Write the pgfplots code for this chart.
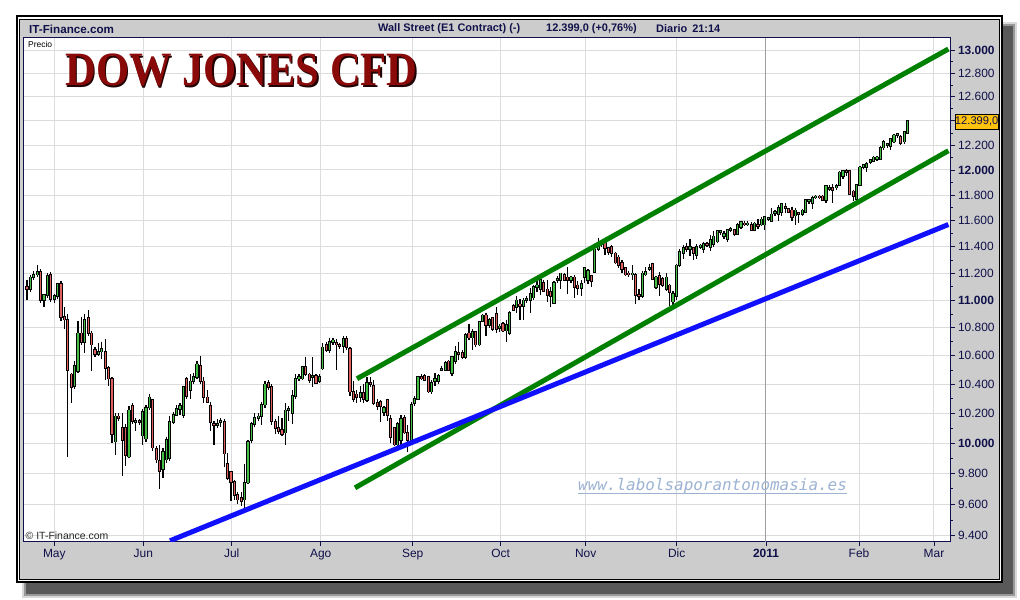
\documentclass[border=0pt]{standalone}
\usepackage{fontspec}
\setmainfont{Liberation Sans}
\newfontfamily\titlefont{Liberation Serif}
\newfontfamily\wmfont{DejaVu Sans Mono}
\usepackage{pgfplots}
\usepackage{pgfplotstable}
\pgfplotsset{compat=1.18}
\definecolor{navy}{HTML}{10104A}
\definecolor{framegrey}{HTML}{CCCCCC}
\definecolor{gridgrey}{HTML}{DCDCDC}
\definecolor{upgreen}{HTML}{44C044}
\definecolor{downred}{HTML}{E06060}
\definecolor{trendgreen}{HTML}{008000}
\definecolor{trendblue}{HTML}{1010FF}
\definecolor{titlered}{HTML}{8A0A0A}
\definecolor{wmblue}{HTML}{9DB3D3}
\definecolor{lastbox}{HTML}{FFC20E}

\pgfplotstableread{
i O H L C
0 11100 11150 11000 11080
1 11080 11190 11060 11170
2 11170 11220 11150 11190
3 11190 11260 11170 11210
4 11210 11230 10980 11000
5 11000 11050 10950 11040
6 11040 11200 11020 11180
7 11190 11210 10990 11010
8 11010 11050 10980 11030
9 11030 11130 11010 11120
10 11120 11140 10850 10880
11 10880 10950 10790 10860
12 10860 10900 9910 10500
13 10470 10480 10270 10380
14 10390 10560 10370 10530
15 10490 10850 10480 10760
16 10760 10880 10680 10700
17 10700 10900 10620 10860
18 10870 10930 10740 10760
19 10760 10780 10490 10680
20 10640 10660 10590 10610
21 10610 10690 10600 10630
22 10630 10700 10580 10650
23 10630 10720 10430 10515
24 10515 10530 10390 10440
25 10440 10450 10000 10060
26 10010 10200 9920 10180
27 10180 10200 10150 10170
28 10100 10200 9780 10020
29 10100 10130 9850 9920
30 9910 10250 9900 10220
31 10250 10270 10130 10150
32 10140 10170 10080 10150
33 10150 10160 10120 10140
34 10050 10230 9990 10210
35 10030 10260 10010 10240
36 10240 10330 10220 10310
37 10290 10300 9950 9970
38 9960 9980 9870 9890
39 9880 9990 9700 9815
40 9830 9970 9770 9940
41 9890 10040 9870 10020
42 9900 10180 9880 10140
43 10140 10210 10130 10190
44 10190 10260 10180 10230
45 10230 10270 10190 10250
46 10190 10390 10170 10380
47 10440 10450 10300 10320
48 10360 10470 10300 10420
49 10420 10480 10400 10450
50 10450 10560 10440 10540
51 10530 10600 10400 10420
52 10420 10450 10270 10310
53 10310 10360 10270 10280
54 10250 10280 10080 10140
55 10130 10150 9990 10120
56 10120 10160 10100 10130
57 10140 10170 10110 10150
58 10140 10160 9840 9930
59 9860 9935 9760 9770
60 9810 9810 9620 9745
61 9745 9760 9630 9660
62 9660 9680 9600 9630
63 9640 9680 9590 9620
64 9630 9860 9565 9740
65 9740 10020 9730 10010
66 10020 10140 10000 10130
67 10130 10200 10110 10170
68 10170 10200 10150 10180
69 10180 10280 10120 10260
70 10260 10420 10240 10400
71 10410 10430 10360 10380
72 10380 10400 10120 10150
73 10140 10160 10060 10100
74 10100 10180 10060 10080
75 10090 10170 10050 10060
76 10070 10270 9990 10220
77 10220 10250 10150 10230
78 10200 10360 10130 10320
79 10320 10470 10300 10440
80 10440 10470 10420 10450
81 10440 10530 10430 10520
82 10520 10590 10460 10470
83 10470 10480 10410 10430
84 10450 10590 10380 10460
85 10460 10470 10400 10410
86 10420 10470 10410 10450
87 10510 10690 10500 10660
88 10680 10700 10630 10640
89 10640 10730 10620 10700
90 10700 10730 10680 10710
91 10690 10720 10500 10680
92 10680 10690 10650 10670
93 10670 10740 10620 10720
94 10720 10740 10640 10660
95 10650 10660 10320 10350
96 10350 10420 10280 10300
97 10330 10360 10270 10310
98 10310 10390 10280 10340
99 10340 10400 10270 10300
100 10290 10450 10280 10410
101 10410 10450 10380 10400
102 10390 10430 10260 10270
103 10270 10300 10220 10250
104 10280 10290 10140 10250
105 10210 10250 10180 10240
106 10290 10300 10150 10190
107 10160 10190 10000 10040
108 10100 10110 9980 9990
109 9990 10140 9970 10130
110 10020 10190 9990 10160
111 10170 10190 10060 10070
112 10070 10120 9940 10020
113 10020 10280 10010 10260
114 10270 10320 10250 10300
115 10300 10460 10290 10450
116 10450 10470 10430 10440
117 10460 10470 10420 10430
118 10450 10460 10340 10350
119 10350 10430 10330 10410
120 10420 10480 10390 10440
121 10420 10470 10400 10460
122 10500 10530 10490 10510
123 10500 10560 10490 10550
124 10560 10570 10490 10500
125 10480 10600 10460 10590
126 10560 10670 10540 10630
127 10620 10700 10570 10610
128 10620 10640 10580 10590
129 10590 10760 10580 10750
130 10760 10830 10710 10730
131 10730 10790 10640 10770
132 10770 10780 10660 10680
133 10680 10850 10670 10840
134 10850 10900 10840 10890
135 10890 10910 10740 10820
136 10820 10870 10800 10860
137 10870 10880 10780 10790
138 10900 10950 10760 10790
139 10800 10830 10770 10810
140 10830 10840 10770 10780
141 10780 10860 10700 10820
142 10760 10920 10750 10910
143 10960 10970 10920 10930
144 10950 11030 10910 11000
145 10970 11010 10860 10960
146 10960 11020 10860 11000
147 11000 11030 10980 11010
148 11000 11090 10910 11050
149 11020 11110 11000 11100
150 11100 11140 11060 11110
151 11080 11170 11040 11150
152 11130 11150 11060 11070
153 11080 11150 10990 11040
154 11060 11100 10950 11030
155 10980 11140 10970 11130
156 11150 11180 11130 11160
157 11150 11200 11080 11200
158 11190 11200 11140 11150
159 11170 11250 11050 11150
160 11150 11180 11130 11170
161 11170 11190 11020 11100
162 11110 11140 11040 11090
163 11090 11150 11030 11120
164 11170 11240 11130 11240
165 11150 11230 11120 11220
166 11180 11190 11100 11140
167 11210 11380 11200 11380
168 11380 11470 11370 11430
169 11430 11450 11400 11420
170 11430 11440 11340 11390
171 11390 11400 11340 11360
172 11400 11410 11320 11350
173 11350 11360 11270 11280
174 11320 11340 11240 11260
175 11280 11300 11200 11230
176 11240 11250 11180 11190
177 11200 11220 11170 11190
178 11190 11260 11150 11200
179 11190 11200 10970 11040
180 11040 11080 11000 11030
181 11030 11220 11020 11200
182 11190 11250 11180 11210
183 11230 11270 11220 11240
184 11270 11280 11150 11160
185 11100 11180 11080 11170
186 11180 11210 11030 11120
187 11160 11170 11100 11110
188 11080 11200 11070 11170
189 11110 11120 10960 11060
190 10990 11070 10960 11050
191 11030 11270 11000 11260
192 11260 11380 11250 11360
193 11350 11410 11310 11390
194 11400 11430 11360 11380
195 11380 11460 11330 11400
196 11390 11400 11300 11350
197 11340 11420 11310 11400
198 11400 11420 11380 11410
199 11380 11440 11350 11420
200 11420 11440 11400 11410
201 11400 11490 11370 11450
202 11420 11520 11400 11480
203 11440 11530 11430 11520
204 11510 11530 11490 11520
205 11480 11520 11460 11500
206 11460 11540 11440 11530
207 11530 11550 11510 11540
208 11530 11540 11480 11500
209 11500 11580 11490 11570
210 11550 11600 11540 11590
211 11580 11600 11560 11570
212 11570 11600 11560 11580
213 11570 11590 11520 11530
214 11530 11590 11520 11580
215 11570 11610 11540 11560
216 11570 11630 11560 11610
217 11570 11640 11530 11630
218 11610 11630 11600 11620
219 11600 11700 11590 11650
220 11660 11680 11640 11670
221 11650 11720 11600 11700
222 11670 11740 11640 11730
223 11710 11740 11660 11700
224 11690 11700 11660 11670
225 11680 11710 11600 11630
226 11640 11700 11570 11680
227 11660 11670 11580 11650
228 11650 11690 11640 11680
229 11670 11770 11660 11760
230 11750 11770 11730 11760
231 11740 11790 11690 11780
232 11780 11800 11770 11790
233 11790 11800 11770 11780
234 11790 11800 11750 11760
235 11760 11880 11740 11870
236 11850 11880 11830 11860
237 11860 11890 11740 11840
238 11860 11890 11840 11870
239 11880 11990 11870 11980
240 11950 12000 11930 11990
241 11990 12010 11950 11980
242 11990 12000 11800 11810
243 11830 11840 11750 11790
244 11770 11890 11760 11880
245 11880 12030 11870 12020
246 12020 12050 12010 12040
247 12020 12060 11980 12050
248 12060 12090 12050 12080
249 12070 12110 12060 12100
250 12090 12110 12070 12100
251 12090 12190 12080 12180
252 12180 12240 12160 12230
253 12200 12220 12180 12210
254 12190 12260 12160 12250
255 12230 12290 12220 12280
256 12280 12300 12260 12290
257 12270 12280 12200 12220
258 12230 12320 12210 12310
259 12300 12400 12290 12399
}\djdata

\begin{document}
\begin{tikzpicture}[x=1bp,y=1bp]
\fill[white] (0,0) rectangle (1020,600);
% shadow
\fill[black!15] (22,2) rectangle (1017,578);
\fill[black!40] (24,4) rectangle (1015,576);
\fill[black!65] (26,6) rectangle (1013,574);
% frame
\fill[black] (15.5,16.5) rectangle (1003,584.5);
\fill[white] (17.5,18.5) rectangle (1001,582.5);
\fill[black] (19,20) rectangle (999.5,581);
\fill[framegrey] (20,21) rectangle (998.5,580);
% header
\node[anchor=west, inner sep=0pt, font=\fontsize{11.7}{14}\selectfont\bfseries, text=navy] at (29,571) {IT-Finance.com};
\node[anchor=west, inner sep=0pt, font=\fontsize{11}{14}\selectfont\bfseries, text=navy] at (378,571) {Wall Street (E1 Contract) (-)};
\node[anchor=west, inner sep=0pt, font=\fontsize{11}{14}\selectfont\bfseries, text=navy] at (546,571) {12.399,0 (+0,76\%)};
\node[anchor=west, inner sep=0pt, font=\fontsize{11}{14}\selectfont\bfseries, text=navy] at (656,571) {Diario\hspace{5bp}21:14};

\begin{axis}[
  at={(23.5bp,58bp)}, anchor=south west,
  scale only axis, width=927bp, height=504bp,
  xmin=-1.03, xmax=271.62,
  ymode=log, ymin=9362.4, ymax=13107,
  axis background/.style={fill=white},
  axis line style={draw=navy, line width=1bp},
  xtick={8.03,34.21,60.21,86.38,113.44,139.32,164.32,191.09,244.71,266.76},
  xticklabels={May,Jun,Jul,Ago,Sep,Oct,Nov,Dic,Feb,Mar},
  extra x ticks={217.35},
  extra x tick labels={\textbf{2011}},
  extra x tick style={major grid style={draw=black!38, line width=1bp}},
  ytick={9400,9600,9800,10000,10200,10400,10600,10800,11000,11200,11400,11600,11800,12000,12200,12400,12600,12800,13000},
  yticklabels={9.400,9.600,9.800,\textbf{10.000},10.200,10.400,10.600,10.800,\textbf{11.000},11.200,11.400,11.600,11.800,\textbf{12.000},12.200,{},12.600,12.800,\textbf{13.000}},
  minor ytick={9500,9700,9900,10100,10300,10500,10700,10900,11100,11300,11500,11700,11900,12100,12300,12500,12700,12900},
  xtick pos=left, ytick pos=right, yticklabel pos=right,
  tick align=outside,
  major tick length=4bp, minor tick length=2.5bp,
  tick style={draw=navy, line width=0.8bp},
  grid=major,
  major grid style={draw=gridgrey, line width=1bp},
  tick label style={font=\fontsize{12}{14}\selectfont, text=navy},
  yticklabel style={anchor=west},
  unbounded coords=discard,
]
% wicks
\addplot[draw=none, forget plot, error bars/.cd, y dir=minus, y explicit, error mark=none,
  error bar style={draw=black, line width=1.2bp}]
  table[x=i, y=H, y error minus expr={\thisrow{H}-\thisrow{L}}] {\djdata};
% body outline
\addplot[draw=none, forget plot, error bars/.cd, y dir=minus, y explicit, error mark=none,
  error bar style={draw=black, line width=3.2bp, shorten <=-0.8bp, shorten >=-0.8bp}]
  table[x=i, y expr={max(\thisrow{O},\thisrow{C})}, y error minus expr={abs(\thisrow{C}-\thisrow{O})}] {\djdata};
% up bodies
\addplot[draw=none, forget plot, error bars/.cd, y dir=minus, y explicit, error mark=none,
  error bar style={draw=upgreen, line width=1.3bp}]
  table[x=i, y expr={\thisrow{C}>\thisrow{O} ? \thisrow{C} : nan}, y error minus expr={abs(\thisrow{C}-\thisrow{O})}] {\djdata};
% down bodies
\addplot[draw=none, forget plot, error bars/.cd, y dir=minus, y explicit, error mark=none,
  error bar style={draw=downred, line width=1.3bp}]
  table[x=i, y expr={\thisrow{C}<\thisrow{O} ? \thisrow{O} : nan}, y error minus expr={abs(\thisrow{O}-\thisrow{C})}] {\djdata};
% trend lines
\addplot[trendgreen, line width=5bp] coordinates {(97.06,10439) (271,13009)};
\addplot[trendgreen, line width=5bp] coordinates {(96.47,9706) (271,12155)};
\addplot[trendblue, line width=5bp] coordinates {(42.06,9369) (271,11571)};
\end{axis}

% texts inside the plot
\node[anchor=west, inner sep=0pt, font=\fontsize{8.5}{10}\selectfont] at (28,556) {Precio};
\node[anchor=west, inner sep=0pt, font=\fontsize{10.5}{12}\selectfont, text=black!85] at (25.5,64) {© IT-Finance.com};
\node[anchor=base, inner sep=0pt, xscale=0.89, font=\titlefont\bfseries\fontsize{48}{48}\selectfont, text=black!75!titlered] at (243,512.5) {DOW JONES CFD};
\node[anchor=base, inner sep=0pt, xscale=0.89, font=\titlefont\bfseries\fontsize{48}{48}\selectfont, text=titlered] at (241.5,514) {DOW JONES CFD};
\node[anchor=base west, inner sep=0pt, font=\wmfont\itshape\fontsize{16}{18}\selectfont, text=wmblue] at (578,109) {www.labolsaporantonomasia.es};
\draw[wmblue, line width=1bp] (578,106) -- (847,106);
% last price box
\fill[lastbox] (955,471) rectangle (998.5,486);
\draw[black, line width=0.8bp] (955,471) rectangle (998.5,486);
\node[inner sep=0pt, font=\fontsize{11.2}{13}\selectfont, text=navy] at (976.7,478.5) {12.399,0};
\end{tikzpicture}
\end{document}
